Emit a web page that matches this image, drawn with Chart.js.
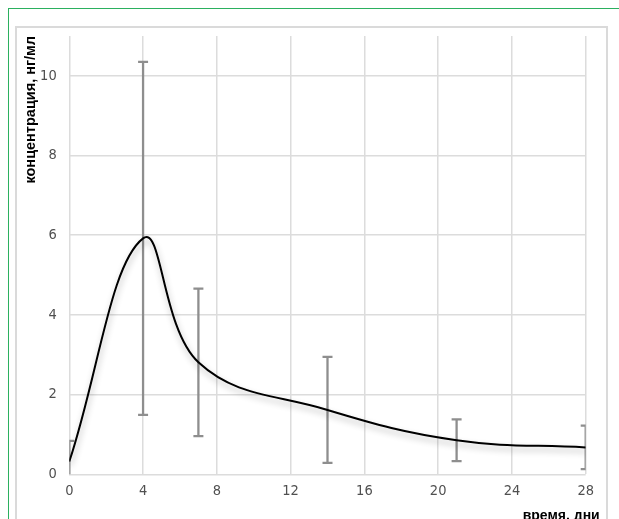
<!DOCTYPE html>
<html>
<head>
<meta charset="utf-8">
<script src="https://cdn.jsdelivr.net/npm/chart.js@4/dist/chart.umd.min.js"></script>
<style>
  html, body { margin: 0; padding: 0; background: #fff; overflow: hidden; }
  #frame { position: absolute; left: 8px; top: 8px; width: 700px; height: 700px;
           border-top: 1.5px solid #2bb05f; border-left: 1.5px solid #2bb05f; }
  #box { position: absolute; left: 15px; top: 26px; width: 589px; height: 700px;
         border: 2.5px solid #dadada; }
  #wrap { position: absolute; left: 0; top: 0; width: 619px; height: 519px; }
</style>
</head>
<body>
<div id="frame"></div>
<div id="box"></div>
<div id="wrap"><canvas id="c" width="619" height="519"></canvas></div>
<script>
// ---- data ----
const days = [0, 4, 7, 14, 21, 28];
const means = [0.32, 5.92, 2.81, 1.615, 0.855, 0.675];
const sds = [0.52, 4.43, 1.85, 1.33, 0.525, 0.545];
const xTicks = [0, 4, 8, 12, 16, 20, 24, 28];
const yTicks = [0, 2, 4, 6, 8, 10];
const yTitle = 'концентрация, нг/мл';
const xTitle = 'время, дни';

const tickFont = { family: '"Liberation Sans Narrow", "DejaVu Sans Condensed", Arial, sans-serif', size: 14.5 };
const titleFont = { family: '"Liberation Sans", Arial, sans-serif', size: 14.5, weight: 'bold' };

const errorBars = {
  id: 'errorBars',
  beforeDatasetsDraw(chart) {
    const { ctx, chartArea: a, scales: { x, y } } = chart;
    ctx.save();
    ctx.beginPath();
    ctx.rect(a.left, a.top, a.right - a.left, a.bottom - a.top);
    ctx.clip();
    ctx.strokeStyle = '#8e8e8e';
    ctx.lineWidth = 2.3;
    days.forEach((d, i) => {
      const px = x.getPixelForValue(d);
      const top = y.getPixelForValue(means[i] + sds[i]);
      const bot = y.getPixelForValue(means[i] - sds[i]);
      ctx.beginPath();
      ctx.moveTo(px, top); ctx.lineTo(px, bot);
      ctx.moveTo(px - 5, top); ctx.lineTo(px + 5, top);
      ctx.moveTo(px - 5, bot); ctx.lineTo(px + 5, bot);
      ctx.stroke();
    });
    ctx.restore();
  }
};

const lineShadow = {
  id: 'lineShadow',
  beforeDatasetDraw(chart) {
    const ctx = chart.ctx;
    ctx.save();
    ctx.shadowColor = 'rgba(0,0,0,0.30)';
    ctx.shadowBlur = 6;
    ctx.shadowOffsetX = 1;
    ctx.shadowOffsetY = 4;
  },
  afterDatasetDraw(chart) { chart.ctx.restore(); }
};

const xTitlePlugin = {
  id: 'xTitlePlugin',
  afterDraw(chart) {
    const { ctx, chartArea: a } = chart;
    ctx.save();
    ctx.font = 'bold 14px "Liberation Sans", Arial, sans-serif';
    ctx.fillStyle = '#000';
    ctx.textAlign = 'right';
    ctx.textBaseline = 'alphabetic';
    ctx.fillText(xTitle, a.right + 14, a.bottom + 46);
    ctx.restore();
  }
};

new Chart(document.getElementById('c'), {
  type: 'line',
  data: {
    datasets: [{
      data: days.map((d, i) => ({ x: d, y: means[i] })),
      borderColor: '#000',
      borderWidth: 2,
      tension: 0.4,
      pointRadius: 0,
      fill: false
    }]
  },
  options: {
    responsive: false,
    animation: false,
    events: [],
    layout: { padding: { left: 0, right: 33.3, top: 36, bottom: 0 } },
    plugins: { legend: { display: false }, tooltip: { enabled: false } },
    scales: {
      x: {
        type: 'linear', min: 0, max: 28,
        afterBuildTicks: s => { s.ticks = xTicks.map(v => ({ value: v })); },
        afterFit: s => { s.height = 44.7; },
        ticks: { color: '#505050', font: tickFont, padding: 8, maxRotation: 0, autoSkip: false },
        grid: { color: '#dcdcdc', lineWidth: 1.5, drawTicks: false },
        border: { display: false }
      },
      y: {
        type: 'linear', min: 0, max: 11,
        afterBuildTicks: s => { s.ticks = yTicks.map(v => ({ value: v })); },
        afterFit: s => { s.width = 69.3; },
        ticks: { color: '#505050', font: tickFont, padding: 12.6 },
        grid: { color: '#dcdcdc', lineWidth: 1.5, drawTicks: false },
        border: { display: false },
        title: { display: true, text: yTitle, color: '#000', font: titleFont, align: 'end', padding: { top: 22 } }
      }
    }
  },
  plugins: [errorBars, lineShadow, xTitlePlugin]
});
</script>
</body>
</html>
